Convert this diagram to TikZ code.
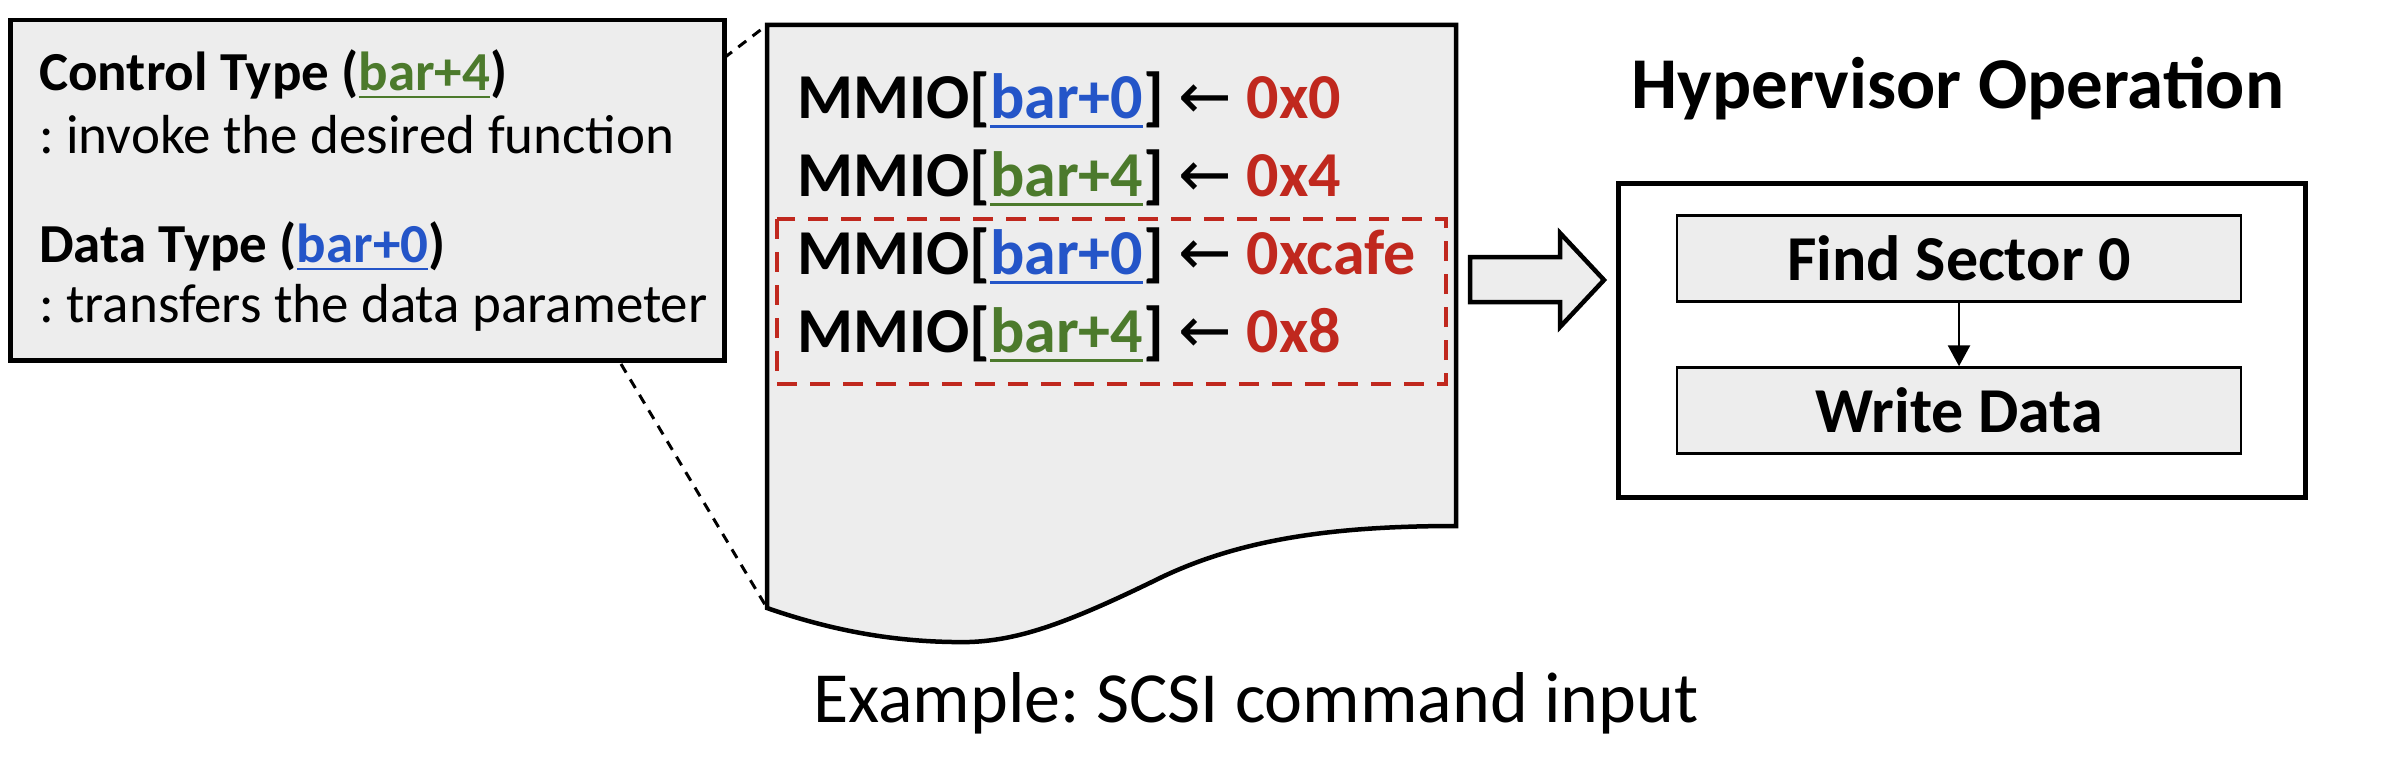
\documentclass[tikz,border=0pt]{standalone}
\usepackage{fix-cm}
\usepackage{fontspec}
\setmainfont{Carlito}
\newfontfamily\arrowfont{DejaVu Sans}
\usepackage{xcolor}
\usepackage{tikz}
\usetikzlibrary{arrows.meta,positioning}
\definecolor{PageGray}{RGB}{237,237,237}
\definecolor{BarBlue}{RGB}{36,85,200}
\definecolor{BarGreen}{RGB}{76,122,44}
\definecolor{ValRed}{RGB}{192,40,30}
\newcommand{\barline}[1]{\leavevmode\setbox0\hbox{#1}\rlap{\rule[-0.15em]{\wd0}{0.047em}}\box0}
\newcommand{\barzero}{\textcolor{BarBlue}{\barline{bar+0}}}
\newcommand{\barfour}{\textcolor{BarGreen}{\barline{bar+4}}}
\newcommand{\getsto}{{\arrowfont\mdseries ←}}
\frenchspacing

\begin{document}
\begin{tikzpicture}[x=1pt,y=-1pt,
        pnl/.style={draw,line width=4.5pt,fill=PageGray},
        txt/.style={anchor=base west,inner sep=0pt,font=\fontsize{55}{60}\selectfont},
        mmio/.style={anchor=base west,inner sep=0pt,font=\fontsize{64}{70}\selectfont\bfseries},
        opbox/.style={draw,line width=2.5pt,fill=PageGray,minimum width=564pt,
                      minimum height=86pt,inner sep=0pt,font=\fontsize{64}{70}\selectfont\bfseries},
        zoomln/.style={line width=3pt,dash pattern=on 10pt off 8pt},
        arr/.style={-{Triangle[length=21pt,width=22pt]},line width=2.8pt}
      ]
        \useasboundingbox (0,0) rectangle (2390,768);
        \node[pnl,minimum width=714pt,minimum height=340pt,anchor=north west,inner sep=0pt] (legend) at (8,18) {};
        \node[txt] (ctrl) at (39,90) {\textbf{Control Type (\barfour)}};
        \node[txt] (ctrlfn) at (39,153) {: invoke the desired function};
        \node[txt] (data) at (39,262) {\textbf{Data Type (\barzero)}};
        \node[txt] (datafn) at (39,322) {: transfers the data parameter};
        \draw[pnl] (767,25) -- (1456,25) -- (1456,526)
          .. controls (1330,526) and (1240,540) .. (1162,577)
          .. controls (1060,627) and (1010,644) .. (952,642)
          .. controls (890,641) and (830,630) .. (767,608) -- cycle;
        \coordinate (docTL) at (767,25);
        \coordinate (docBL) at (767,608);
        \coordinate (zoomA) at (724,58);
        \coordinate (zoomB) at (621,364);
        \draw[zoomln] (zoomA) -- (docTL);
        \draw[zoomln] (zoomB) -- (docBL);
        \node[mmio] (m1) at (797,118) {MMIO[\barzero] \getsto{} \textcolor{ValRed}{0x0}};
        \node[mmio] (m2) at (797,196) {MMIO[\barfour] \getsto{} \textcolor{ValRed}{0x4}};
        \node[mmio] (m3) at (797,274) {MMIO[\barzero] \getsto{} \textcolor{ValRed}{0xcafe}};
        \node[mmio] (m4) at (797,352) {MMIO[\barfour] \getsto{} \textcolor{ValRed}{0x8}};
        \draw[ValRed,line width=4pt,dash pattern=on 20pt off 13pt] (777,219) rectangle (1446,384);
        \draw[line width=4.5pt,fill=PageGray] (1470,257) -- (1560,257) -- (1560,233) -- (1604,280)
          -- (1560,327) -- (1560,302) -- (1470,302) -- cycle;
        \node[font=\fontsize{73}{80}\selectfont\bfseries,anchor=base] (title) at (1958,108) {Hypervisor Operation};
        \node[draw,line width=5pt,fill=white,minimum width=687pt,minimum height=314pt,anchor=north west] (hyp) at (1616,181) {};
        \node[opbox] (find) at (1959,258.5) {Find Sector 0};
        \node[opbox] (write) at (1959,410.5) {Write Data};
        \draw[arr] (find) -- (write);
        \node[font=\fontsize{72}{80}\selectfont,anchor=base] (caption) at (1256,722) {Example: SCSI command input};
      \end{tikzpicture}
\end{document}
